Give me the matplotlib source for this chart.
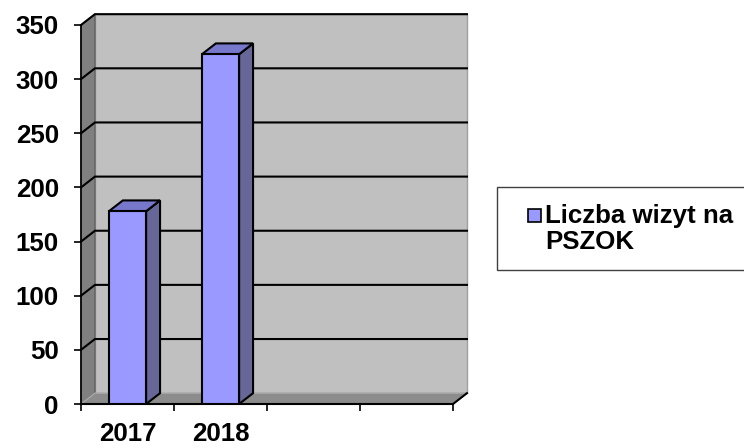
import matplotlib
matplotlib.use('Agg')
import matplotlib.pyplot as plt
from matplotlib.patches import Polygon, Rectangle
import numpy as np

# data
years = ['2017', '2018', '', '']
visits = [178, 323]
series_name = 'Liczba wizyt na\nPSZOK'
y_ticks = [0, 50, 100, 150, 200, 250, 300, 350]

plt.rcParams['font.family'] = ['Liberation Sans', 'DejaVu Sans']
plt.rcParams['font.weight'] = 'bold'
FS = 18.6

W, H = 744, 448
fig = plt.figure(figsize=(W / 100, H / 100), dpi=100)
ax = fig.add_axes([81 / W, 44 / H, 372 / W, 379 / H])
n = len(years)
top = y_ticks[-1]
ax.set_xlim(0, n)
ax.set_ylim(0, top)
ax.patch.set_visible(False)

DX, DY = 0.15, 10  # fake 3D depth offset (x in categories, y in data units)

# back wall, side wall, floor
ax.add_patch(Polygon([(DX, DY), (n + DX, DY), (n + DX, top + DY), (DX, top + DY)],
                     closed=True, fc='#c0c0c0', ec='#a0a0a0', lw=1, clip_on=False, zorder=0))
ax.add_patch(Polygon([(0, 0), (DX, DY), (DX, top + DY), (0, top)],
                     closed=True, fc='#808080', ec='#606060', lw=1, clip_on=False, zorder=0.1))
ax.add_patch(Polygon([(0, 0), (n, 0), (n + DX, DY), (DX, DY)],
                     closed=True, fc='#8c8c8c', ec='#a8a8a8', lw=1, clip_on=False, zorder=0.2))
ax.plot([n, n + DX], [0, DY], color='black', lw=1.5, clip_on=False, zorder=0.3)

# gridlines on the walls
for v in y_ticks[1:]:
    ax.plot([0, DX, n + DX], [v, v + DY, v + DY], color='black', lw=1.5,
            clip_on=False, zorder=0.5, solid_joinstyle='miter')

# bars
x = np.arange(len(visits)) + 0.5
w = 0.4
ax.bar(x, visits, width=w, color='#9999ff', edgecolor='black', lw=1.5, zorder=3)
for xi, v in zip(x, visits):
    l, r = xi - w / 2, xi + w / 2
    ax.add_patch(Polygon([(r, 0), (r + DX, DY), (r + DX, v + DY), (r, v)], closed=True,
                         fc='#666699', ec='black', lw=1.5, clip_on=False, zorder=2.9))
    ax.add_patch(Polygon([(l, v), (r, v), (r + DX, v + DY), (l + DX, v + DY)], closed=True,
                         fc='#7777cc', ec='black', lw=1.5, clip_on=False, zorder=2.9))

# axes
for s in ['top', 'right']:
    ax.spines[s].set_visible(False)
ax.spines['left'].set_linewidth(1.2)
ax.spines['bottom'].set_linewidth(1.5)
ax.set_yticks(y_ticks)
ax.tick_params(axis='y', direction='out', length=5, width=1.2, labelsize=FS, pad=11)
ax.set_xticks(range(n + 1))
ax.set_xticklabels([])
ax.set_xticks(np.arange(n) + 0.5, minor=True)
ax.set_xticklabels(years, minor=True)
ax.tick_params(axis='x', which='major', direction='out', length=5, width=1.2)
ax.tick_params(axis='x', which='minor', length=0, pad=13, labelsize=FS)

# legend box
fig.patches.append(Rectangle((497 / W, 1 - 270 / H), 270 / W, 83 / H, transform=fig.transFigure,
                             fc='white', ec='#404040', lw=1, figure=fig))
fig.patches.append(Rectangle((528 / W, 1 - 222 / H), 13 / W, 13 / H, transform=fig.transFigure,
                             fc='#9999ff', ec='black', lw=1.2, figure=fig))
fig.text(545 / W, 1 - 204 / H, series_name, ha='left', va='top', fontsize=FS,
         fontweight='bold', linespacing=1.12)

fig.savefig('out.png', dpi=100)
